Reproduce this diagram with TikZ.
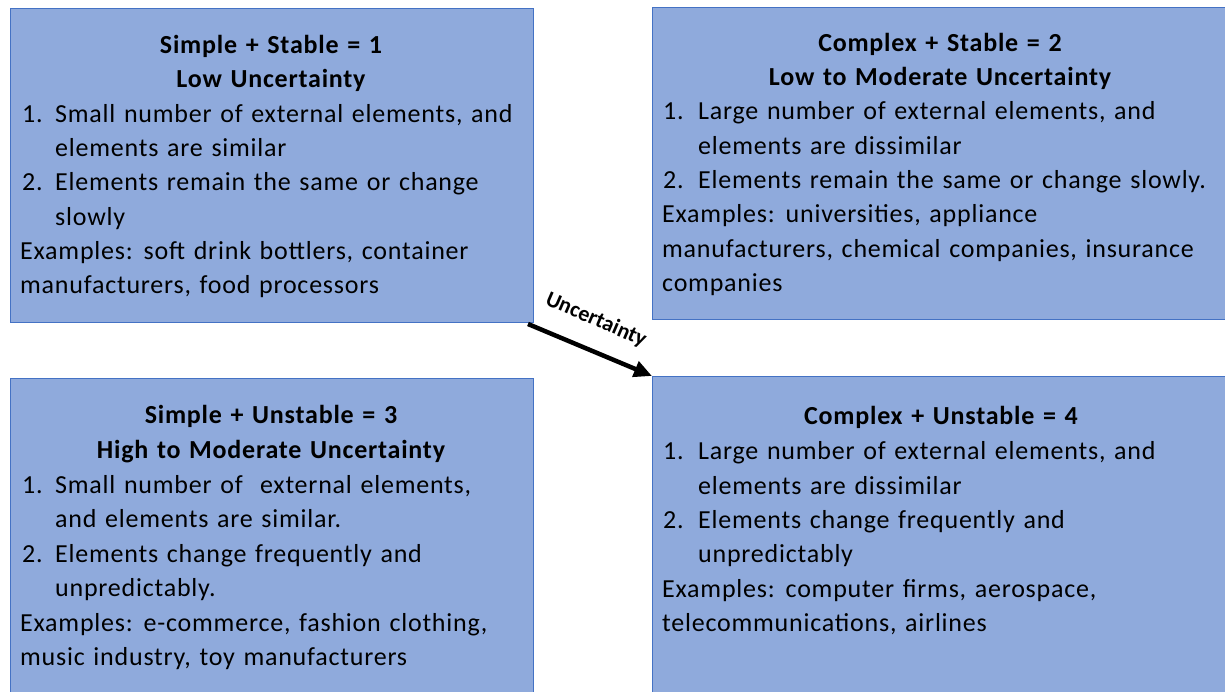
\documentclass[tikz,border=0pt]{standalone}
\usepackage{fontspec}
\setmainfont{Carlito}[LetterSpace=3,WordSpace=1.3]
\newfontfamily\lblfont{Carlito}
\usetikzlibrary{arrows.meta}
\definecolor{boxfill}{HTML}{8FAADC}
\definecolor{boxline}{HTML}{4472C4}
\begin{document}
\begin{tikzpicture}[x={(1pt,0)},y={(0,-1pt)},
  box/.style={draw=boxline,fill=boxfill,line width=1pt,inner sep=0,anchor=north west},
  txt/.style={anchor=base west,inner sep=0,font=\fontsize{26}{30}\selectfont},
  ttl/.style={anchor=base,inner sep=0,font=\bfseries\fontsize{26}{30}\selectfont},
  arr/.style={line width=4.5pt,-{Triangle[length=18pt,width=16pt]}},
  lbl/.style={inner sep=0,font=\lblfont\bfseries\fontsize{22}{22}\selectfont}]
\clip (0,0) rectangle (1225,692);
\fill[white] (0,0) rectangle (1225,692);
% boxes
\node[box,minimum width=523pt,minimum height=314pt] (b1) at (10,8) {};
\node[box,minimum width=600pt,minimum height=312pt] (b2) at (652,7) {};
\node[box,minimum width=523pt,minimum height=330pt] (b3) at (10,378) {};
\node[box,minimum width=600pt,minimum height=330pt] (b4) at (652,376) {};
% box 1
\node[ttl] (t1a) at (271,54) {Simple + Stable = 1};
\node[ttl] (t1b) at (271,88) {Low Uncertainty};
\node[txt] (n1a) at (22,123) {1.};
\node[txt] (l1a) at (55,123) {Small number of external elements, and};
\node[txt] (l1b) at (55,157) {elements are similar};
\node[txt] (n1b) at (22,191) {2.};
\node[txt] (l1c) at (55,191) {Elements remain the same or change};
\node[txt] (l1d) at (55,226) {slowly};
\node[txt] (l1e) at (20,260) {Examples: soft drink bottlers, container};
\node[txt] (l1f) at (20,294) {manufacturers, food processors};
% box 2
\node[ttl] (t2a) at (940,52) {Complex + Stable = 2};
\node[ttl] (t2b) at (940,86) {Low to Moderate Uncertainty};
\node[txt] (n2a) at (663,120) {1.};
\node[txt] (l2a) at (698,120) {Large number of external elements, and};
\node[txt] (l2b) at (698,155) {elements are dissimilar};
\node[txt] (n2b) at (663,189) {2.};
\node[txt] (l2c) at (698,189) {Elements remain the same or change slowly.};
\node[txt] (l2d) at (662,223) {Examples: universities, appliance};
\node[txt] (l2e) at (662,258) {manufacturers, chemical companies, insurance};
\node[txt] (l2f) at (662,292) {companies};
% box 3
\node[ttl] (t3a) at (271,423) {Simple + Unstable = 3};
\node[ttl] (t3b) at (271,458) {High to Moderate Uncertainty};
\node[txt] (n3a) at (22,493) {1.};
\node[txt] (l3a) at (55,493) {Small number of\ \ external elements,};
\node[txt] (l3b) at (55,527) {and elements are similar.};
\node[txt] (n3b) at (22,562) {2.};
\node[txt] (l3c) at (55,562) {Elements change frequently and};
\node[txt] (l3d) at (55,596) {unpredictably.};
\node[txt] (l3e) at (20,631) {Examples: e-commerce, fashion clothing,};
\node[txt] (l3f) at (20,665) {music industry, toy manufacturers};
% box 4
\node[ttl] (t4a) at (941,424) {Complex + Unstable = 4};
\node[txt] (n4a) at (663,459) {1.};
\node[txt] (l4a) at (698,459) {Large number of external elements, and};
\node[txt] (l4b) at (698,494) {elements are dissimilar};
\node[txt] (n4b) at (663,528) {2.};
\node[txt] (l4c) at (698,528) {Elements change frequently and};
\node[txt] (l4d) at (698,562) {unpredictably};
\node[txt] (l4e) at (662,597) {Examples: computer firms, aerospace,};
\node[txt] (l4f) at (662,631) {telecommunications, airlines};
% arrow
\draw[arr] ([shift={(-6pt,-1pt)}]b1.south east) -- (b4.north west);
\node[lbl,rotate=-23.4] (unc) at (596,320) {Uncertainty};
\end{tikzpicture}
\end{document}
